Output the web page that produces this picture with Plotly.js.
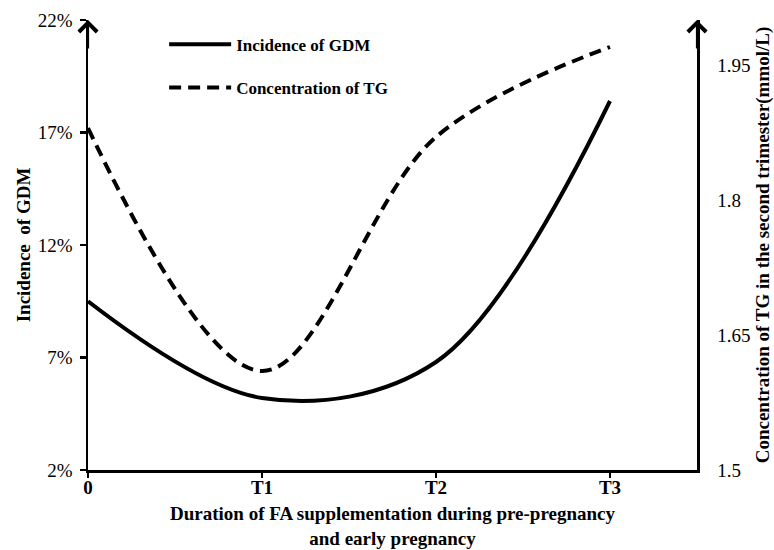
<!DOCTYPE html>
<html>
<head>
<meta charset="utf-8">
<script src="https://cdn.plot.ly/plotly-3.0.1.min.js"></script>
<style>html,body{margin:0;padding:0;background:#fff;}#chart{width:774px;height:550px;}</style>
</head>
<body>
<div id="chart"></div>
<script>
// Data
var categories = ['0', 'T1', 'T2', 'T3'];
var gdmIncidence = [9.5, 5.2, 6.8, 18.4];        // %
var tgConcentration = [1.88, 1.61, 1.87, 1.97];  // mmol/L
var leftTicks = [2, 7, 12, 17, 22];
var leftTickText = ['2%', '7%', '12%', '17%', '22%'];
var rightTickLabels = [1.5, 1.65, 1.8, 1.95];
var rightTickText = ['1.5', '1.65', '1.8', '1.95'];
var rightTickMarks = [1.5, 1.6, 1.7, 1.8, 1.9];

var serif = 'Liberation Serif, Times New Roman, serif';

var traces = [
  {
    x: categories, y: gdmIncidence, type: 'scatter', mode: 'lines',
    name: 'Incidence of GDM', legendgroup: 'a',
    line: {color: '#000', width: 4, shape: 'spline', smoothing: 1},
    yaxis: 'y', hoverinfo: 'skip'
  },
  {
    x: categories, y: tgConcentration, type: 'scatter', mode: 'lines',
    name: 'Concentration of TG', legendgroup: 'b',
    line: {color: '#000', width: 4, shape: 'spline', smoothing: 1, dash: '12px,7px'},
    yaxis: 'y2', hoverinfo: 'skip'
  }
];

var layout = {
  width: 774, height: 550,
  margin: {l: 88, r: 77, t: 20, b: 80},
  paper_bgcolor: '#fff', plot_bgcolor: '#fff',
  font: {family: serif, color: '#000'},
  showlegend: true,
  legend: {
    x: 0.125, y: 0.985, xanchor: 'left', yanchor: 'top',
    bgcolor: 'rgba(0,0,0,0)', borderwidth: 0,
    font: {family: serif, size: 17, weight: 'bold', color: '#000'},
    tracegroupgap: 18, itemwidth: 62
  },
  xaxis: {
    type: 'category', range: [0, 3.5],
    showline: true, linecolor: '#000', linewidth: 2.5,
    showgrid: false, zeroline: false,
    ticks: 'outside', ticklen: 5, tickwidth: 2.5, tickcolor: '#000',
    ticklabelstandoff: -6,
    tickfont: {family: serif, size: 19, weight: 'bold', color: '#000'},
    title: {text: 'Duration of FA supplementation during pre-pregnancy<br>and early pregnancy',
            font: {family: serif, size: 19, weight: 'bold', color: '#000'}, standoff: 10}
  },
  yaxis: {
    range: [2, 22], tickvals: leftTicks, ticktext: leftTickText,
    showline: true, linecolor: '#000', linewidth: 2.5,
    showgrid: false, zeroline: false,
    ticks: 'outside', ticklen: 6, tickwidth: 2.5, tickcolor: '#000',
    ticklabelstandoff: 3,
    tickfont: {family: serif, size: 19, color: '#000'},
    title: {text: 'Incidence&nbsp; of GDM', font: {family: serif, size: 19, weight: 'bold', color: '#000'}, standoff: 2}
  },
  yaxis2: {
    overlaying: 'y', side: 'right', range: [1.5, 2.0],
    tickvals: rightTickLabels, ticktext: rightTickText,
    showline: true, linecolor: '#000', linewidth: 2.5,
    showgrid: false, zeroline: false, ticks: '',
    ticklabelstandoff: 14,
    tickfont: {family: serif, size: 19, color: '#000'},
    title: {text: 'Concentration of TG in the second trimester(mmol/L)',
            font: {family: serif, size: 19, weight: 'bold', color: '#000'}, standoff: 6}
  },
  yaxis3: {
    overlaying: 'y', side: 'right', range: [1.5, 2.0],
    tickvals: rightTickMarks, showticklabels: false,
    showline: false, showgrid: false, zeroline: false,
    ticks: 'outside', ticklen: 4, tickwidth: 2.5, tickcolor: '#000'
  },
  annotations: [
    {xref: 'paper', yref: 'paper', x: 0, y: 1, ax: 0, ay: 30, text: '', showarrow: true,
     arrowhead: 4, arrowsize: 1.6, arrowwidth: 2.2, arrowcolor: '#000', standoff: 0},
    {xref: 'paper', yref: 'paper', x: 1, y: 1, ax: 0, ay: 30, text: '', showarrow: true,
     arrowhead: 4, arrowsize: 1.6, arrowwidth: 2.2, arrowcolor: '#000', standoff: 0}
  ]
};

Plotly.newPlot('chart', traces, layout, {displayModeBar: false, staticPlot: true});
</script>
</body>
</html>
